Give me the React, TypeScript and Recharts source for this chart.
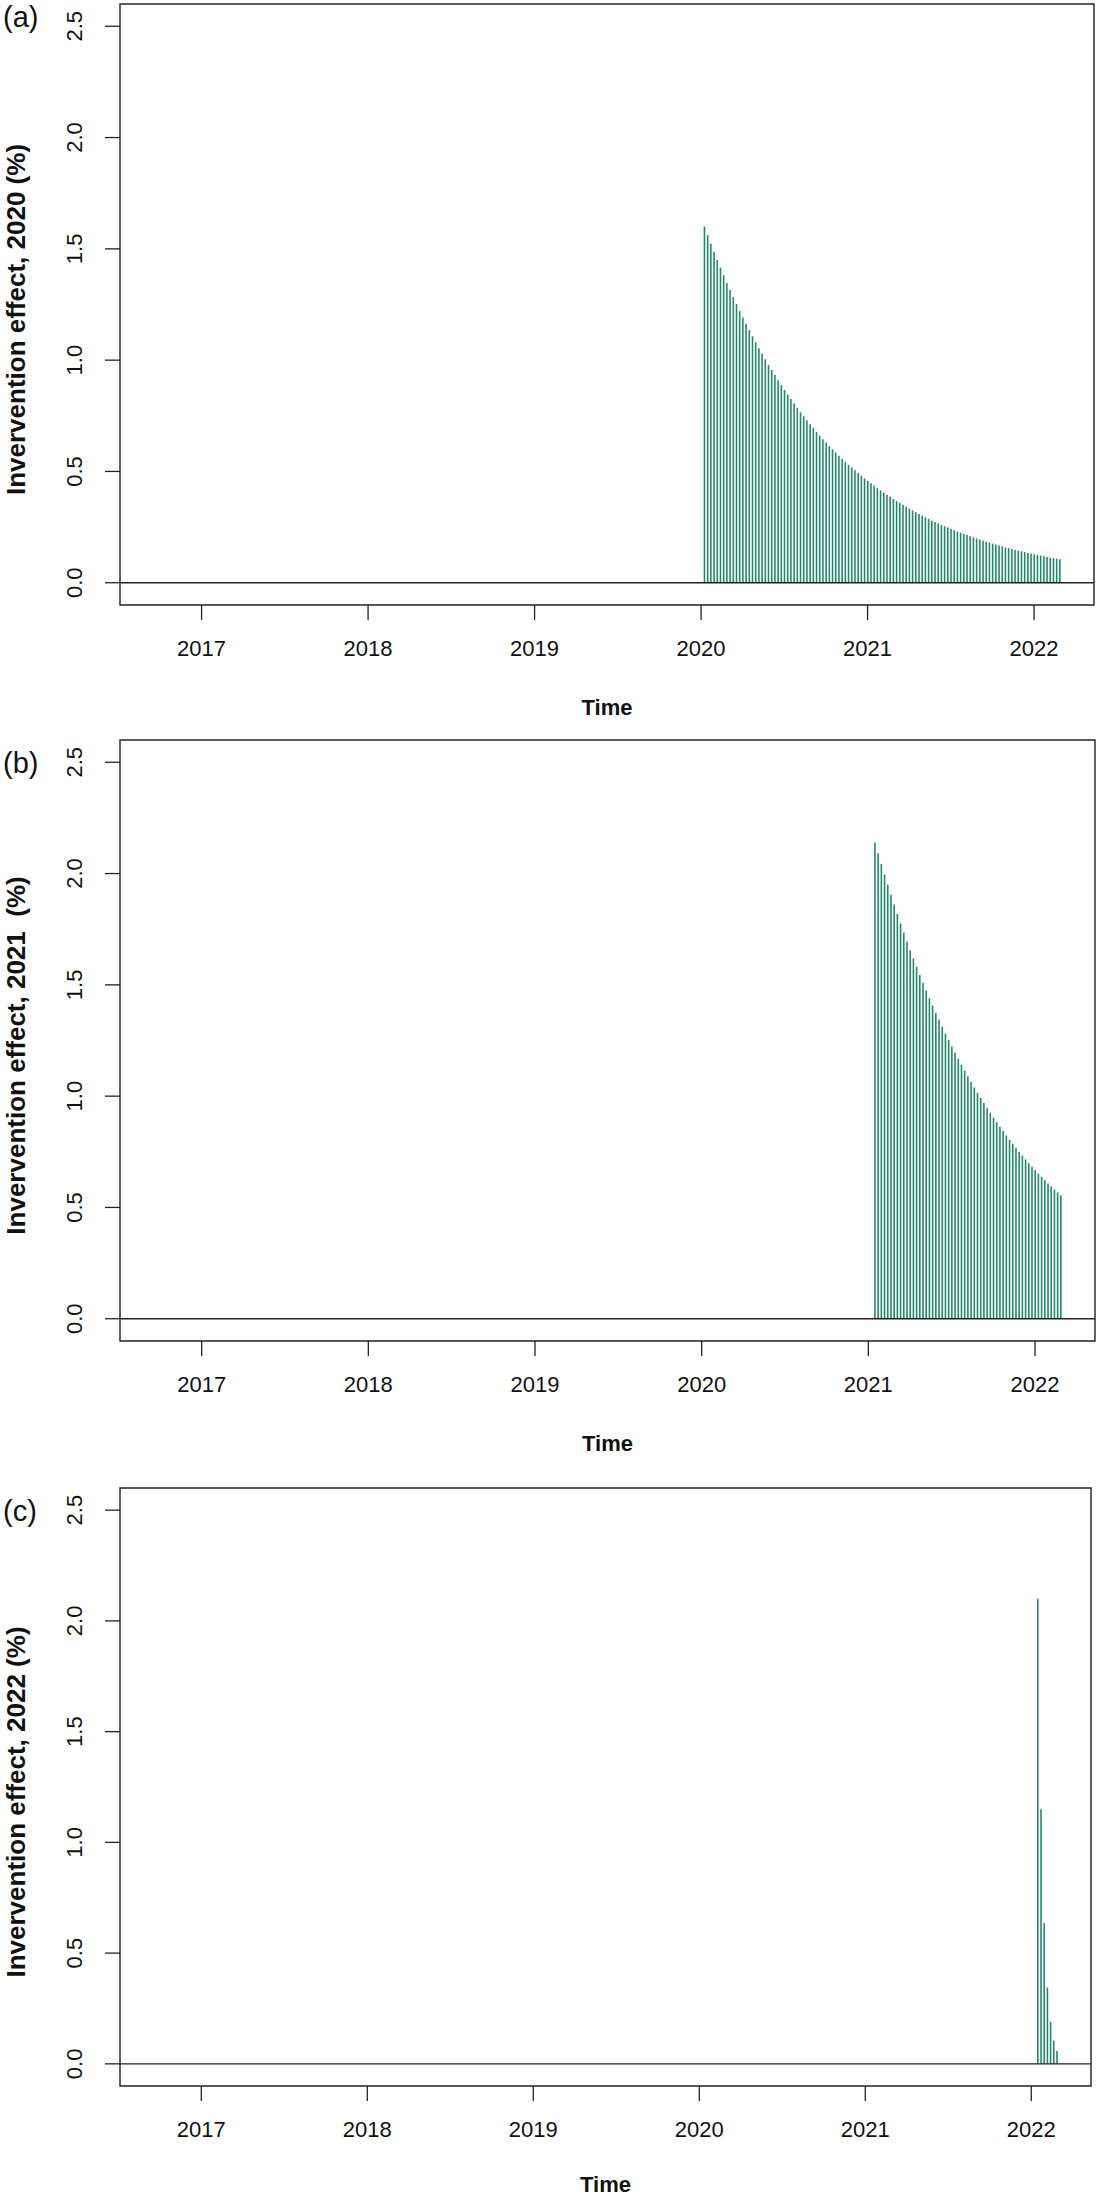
import React from 'react';
import { ComposedChart, Bar, XAxis, YAxis, ReferenceLine, ReferenceArea } from 'recharts';

const FONT = '"Liberation Sans", Arial, Helvetica, sans-serif';
const INK = '#222';
const SPIKE = '#23896b';

const years = [2017, 2018, 2019, 2020, 2021, 2022];
const effectTicks = [0, 0.5, 1, 1.5, 2, 2.5];
const xDomain = [2016.51, 2022.36];
const yDomain = [-0.1, 2.6];

// weekly intervention effects (%)
const effect2020 = [
  1.600, 1.561, 1.523, 1.486, 1.450, 1.415, 1.381, 1.347, 1.315, 1.283,
  1.252, 1.221, 1.192, 1.163, 1.135, 1.107, 1.080, 1.054, 1.029, 1.004,
  0.979, 0.956, 0.933, 0.910, 0.888, 0.866, 0.845, 0.825, 0.805, 0.785,
  0.766, 0.748, 0.730, 0.712, 0.695, 0.678, 0.661, 0.645, 0.630, 0.614,
  0.600, 0.585, 0.571, 0.557, 0.544, 0.530, 0.518, 0.505, 0.493, 0.481,
  0.469, 0.458, 0.447, 0.436, 0.425, 0.415, 0.405, 0.395, 0.386, 0.376,
  0.367, 0.358, 0.350, 0.341, 0.333, 0.325, 0.317, 0.309, 0.302, 0.294,
  0.287, 0.280, 0.273, 0.267, 0.260, 0.254, 0.248, 0.242, 0.236, 0.230,
  0.225, 0.219, 0.214, 0.209, 0.204, 0.199, 0.194, 0.189, 0.185, 0.180,
  0.176, 0.172, 0.167, 0.163, 0.159, 0.156, 0.152, 0.148, 0.144, 0.141,
  0.138, 0.134, 0.131, 0.128, 0.125, 0.122, 0.119, 0.116, 0.113, 0.110,
  0.108, 0.105,
];

const effect2021 = [
  2.140, 2.091, 2.043, 1.996, 1.950, 1.905, 1.861, 1.818, 1.776, 1.735,
  1.695, 1.656, 1.618, 1.581, 1.544, 1.509, 1.474, 1.440, 1.407, 1.375,
  1.343, 1.312, 1.282, 1.252, 1.223, 1.195, 1.168, 1.141, 1.115, 1.089,
  1.064, 1.039, 1.015, 0.992, 0.969, 0.947, 0.925, 0.904, 0.883, 0.863,
  0.843, 0.823, 0.804, 0.786, 0.768, 0.750, 0.733, 0.716, 0.699, 0.683,
  0.668, 0.652, 0.637, 0.622, 0.608, 0.594, 0.580, 0.567, 0.554,
];

const effect2022 = [2.10, 1.15, 0.635, 0.345, 0.19, 0.105, 0.058];

const panels = [
  { tag: '(a)', top: 0, height: 736, plotBottom: 605, timeY: 715, tagTop: 0,
    year: 2020, startWeek: 1, values: effect2020, right: 6, ylabel: 'Invervention effect, 2020 (%)' },
  { tag: '(b)', top: 736, height: 736, plotBottom: 605, timeY: 715, tagTop: 10,
    year: 2021, startWeek: 2, values: effect2021, right: 5, ylabel: 'Invervention effect, 2021  (%)' },
  { tag: '(c)', top: 1484, height: 716, plotBottom: 602, timeY: 708, tagTop: 10,
    year: 2022, startWeek: 2, values: effect2022, right: 9, ylabel: 'Invervention effect, 2022 (%)' },
];

const PLOT_TOP = 4;

const YTick = (props: any) => {
  const { x, y, payload } = props;
  const bx = x - 23;
  return (
    <text x={bx} y={y} transform={`rotate(-90 ${bx} ${y})`} textAnchor="middle"
      fontSize={22} fontFamily={FONT} fill="#111">
      {Number(payload.value).toFixed(1)}
    </text>
  );
};

const XTick = (props: any) => {
  const { x, y, payload } = props;
  return (
    <text x={x} y={y + 36} textAnchor="middle" fontSize={22} fontFamily={FONT} fill="#111">
      {payload.value}
    </text>
  );
};

function Panel({ p }: { p: (typeof panels)[number] }) {
  const rows = p.values.map((v, i) => ({ t: p.year + (p.startWeek + i) / 52, v }));
  const labelMid = PLOT_TOP + (p.plotBottom - PLOT_TOP) / 2 + 15;
  const plotCenterX = 120 + (1100 - p.right - 120) / 2;
  return (
    <div style={{ position: 'absolute', left: 0, top: p.top, width: 1100, height: p.height }}>
      <ComposedChart width={1100} height={p.height} data={rows}
        margin={{ top: PLOT_TOP, right: p.right, bottom: 0, left: 0 }}>
        <XAxis dataKey="t" type="number" domain={xDomain} ticks={years} allowDataOverflow
          height={p.height - p.plotBottom} axisLine={false} tickSize={15} tickMargin={0}
          tickLine={{ stroke: INK, strokeWidth: 1.3 }} tick={<XTick />} interval={0}
          label={() => (
            <text x={plotCenterX} y={p.timeY} textAnchor="middle" fontSize={22} fontWeight="bold"
              fontFamily={FONT} fill="#111">Time</text>
          )} />
        <YAxis type="number" domain={yDomain} ticks={effectTicks} allowDataOverflow width={120}
          axisLine={false} tickSize={15} tickMargin={0} interval={0}
          tickLine={{ stroke: INK, strokeWidth: 1.3 }} tick={<YTick />}
          label={() => (
            <text x={24.5} y={labelMid} transform={`rotate(-90 24.5 ${labelMid})`} textAnchor="middle"
              fontSize={26} fontWeight="bold" fontFamily={FONT} fill="#111"
              style={{ whiteSpace: 'pre' }}>{p.ylabel}</text>
          )} />
        <ReferenceArea x1={xDomain[0]} x2={xDomain[1]} y1={yDomain[0]} y2={yDomain[1]}
          fill="none" stroke={INK} strokeWidth={1.4} ifOverflow="visible" />
        <Bar dataKey="v" fill={SPIKE} barSize={1.6} isAnimationActive={false} />
        <ReferenceLine y={0} stroke={INK} strokeWidth={1.4} />
      </ComposedChart>
      <svg width={60} height={50} style={{ position: 'absolute', left: 0, top: p.tagTop }}>
        <text x={3} y={27} fontSize={29} fontFamily={FONT} fill="#111">{p.tag}</text>
      </svg>
    </div>
  );
}

export default function App() {
  return (
    <div style={{ position: 'absolute', left: 0, top: 0, width: 1100, height: 2200, background: '#fff', overflow: 'hidden' }}>
      {panels.map((p) => <Panel key={p.tag} p={p} />)}
    </div>
  );
}
